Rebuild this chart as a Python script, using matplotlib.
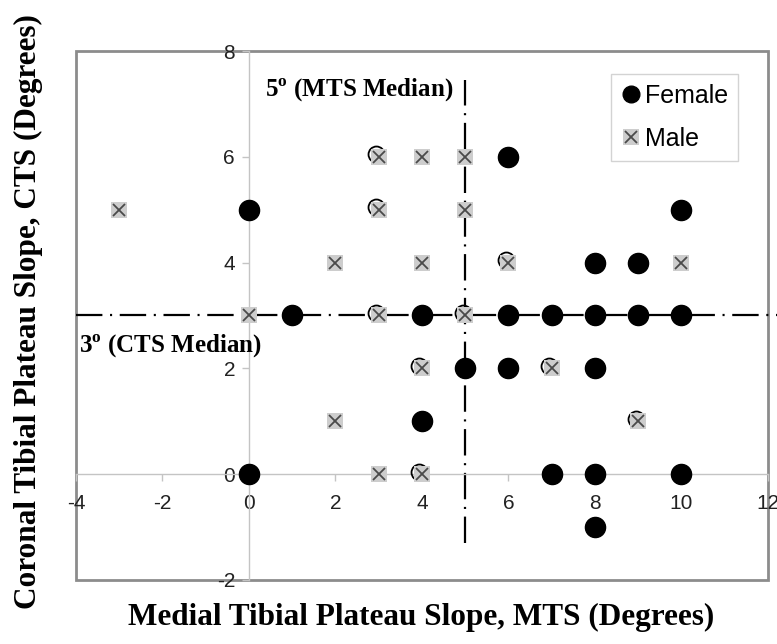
import matplotlib
matplotlib.use("Agg")
import matplotlib.pyplot as plt
from matplotlib.patches import Rectangle
from matplotlib.lines import Line2D
from matplotlib.legend_handler import HandlerTuple
from matplotlib.transforms import offset_copy

plt.rcParams['font.family'] = ['Liberation Sans', 'DejaVu Sans']
plt.rcParams['mathtext.fontset'] = 'custom'
plt.rcParams['mathtext.rm'] = 'Liberation Serif:bold'
plt.rcParams['mathtext.bf'] = 'Liberation Serif:bold'
plt.rcParams['lines.scale_dashes'] = False
plt.rcParams['axes.unicode_minus'] = False

# data (MTS, CTS) in degrees
female_mts = [0, 0, 1, 3, 3, 3, 4, 4, 4, 4, 5, 5, 6, 6, 6, 6, 7, 7, 7,
              8, 8, 8, 8, 8, 9, 9, 9, 10, 10, 10]
female_cts = [5, 0, 3, 6, 5, 3, 3, 2, 1, 0, 3, 2, 6, 4, 3, 2, 3, 2, 0,
              4, 3, 2, 0, -1, 4, 3, 1, 5, 3, 0]
male_mts = [-3, 0, 2, 2, 3, 3, 3, 3, 4, 4, 4, 4, 5, 5, 5, 6, 7, 9, 10]
male_cts = [5, 3, 4, 1, 6, 5, 3, 0, 6, 4, 2, 0, 6, 5, 3, 4, 2, 1, 4]

mts_median = 5
cts_median = 3
x_ticks = [-4, -2, 0, 2, 4, 6, 8, 10, 12]
y_ticks = [-2, 0, 2, 4, 6, 8]

fig = plt.figure(figsize=(7.77, 6.44), dpi=100)
ax = fig.add_axes([0.0978, 0.0994, 0.8906, 0.8214])
ax.set_xlim(-4, 12)
ax.set_ylim(-2, 8)

# axes through the origin, grey box around the plot
for side in ['top', 'right']:
    ax.spines[side].set_visible(False)
for side in ['left', 'bottom']:
    ax.spines[side].set_position(('data', 0))
    ax.spines[side].set_color('#c4c4c4')
    ax.spines[side].set_linewidth(1.0)
ax.add_patch(Rectangle((0, 0), 1, 1, transform=ax.transAxes, fill=False,
                       edgecolor='#8c8c8c', linewidth=2, clip_on=False, zorder=1))

ax.set_xticks(x_ticks)
ax.set_yticks(y_ticks)
ax.tick_params(axis='both', direction='out', length=5, width=1, color='#c4c4c4',
               labelsize=15, labelcolor='#222222')
ax.tick_params(axis='x', pad=9)
ax.tick_params(axis='y', pad=5)

# median lines
dash = (0, (19, 5.5, 1.5, 5.5))
ax.plot([-4, 12.25], [cts_median, cts_median], color='black', lw=1.6,
        linestyle=dash, clip_on=False, zorder=2)
ax.plot([mts_median, mts_median], [-1.3, 7.45], color='black', lw=1.6,
        linestyle=dash, zorder=2)

# points
male_set = set(zip(male_mts, male_cts))
f_vis = [(x, y) for x, y in zip(female_mts, female_cts) if (x, y) not in male_set]
f_hid = [(x, y) for x, y in zip(female_mts, female_cts) if (x, y) in male_set]

ax.plot([p[0] for p in f_vis], [p[1] for p in f_vis], 'o', color='black',
        markersize=14.5, linestyle='none', zorder=3, clip_on=False)
shift = offset_copy(ax.transData, fig=fig, x=-2.5, y=2.5, units='dots')
ax.plot([p[0] for p in f_hid], [p[1] for p in f_hid], 'o', markerfacecolor='none',
        markeredgecolor='black', markeredgewidth=1.3, markersize=11.5,
        linestyle='none', transform=shift, zorder=3)

sq = ax.plot(male_mts, male_cts, 's', color='#cdcdcd', markersize=12,
             markeredgewidth=0, linestyle='none', zorder=4)[0]
xm = ax.plot(male_mts, male_cts, 'x', color='#4a4a4a', markersize=9,
             markeredgewidth=1.3, linestyle='none', zorder=5)[0]

# annotations
ax.text(0.37, 7.13, r'5$^{\mathrm{o}}$ (MTS Median)', fontsize=18, fontweight='bold',
        family='Liberation Serif', ha='left', va='baseline', zorder=6)
ax.text(-3.93, 2.29, r'3$^{\mathrm{o}}$ (CTS Median)', fontsize=18, fontweight='bold',
        family='Liberation Serif', ha='left', va='baseline', zorder=6)

# legend
fem_handle = Line2D([], [], marker='o', color='black', markersize=12, linestyle='none')
leg = ax.legend([fem_handle, (sq, xm)], ['Female', 'Male'],
                handler_map={tuple: HandlerTuple(ndivide=1, pad=0)},
                loc='upper right', bbox_to_anchor=(0.957, 0.957), borderaxespad=0,
                fontsize=18, frameon=True, fancybox=False, handlelength=0.8,
                handletextpad=0.15, borderpad=0.4, labelspacing=0.75)
leg.get_frame().set_edgecolor('#c8c8c8')
leg.get_frame().set_linewidth(1)

fig.text(0.542, 0.018, 'Medial Tibial Plateau Slope, MTS (Degrees)', fontsize=22.5,
         fontweight='bold', family='Liberation Serif', ha='center', va='bottom')
fig.text(0.036, 0.516, 'Coronal Tibial Plateau Slope, CTS (Degrees)', fontsize=22.5,
         fontweight='bold', family='Liberation Serif', ha='center', va='center',
         rotation=90)

fig.savefig('out.png', dpi=100)
